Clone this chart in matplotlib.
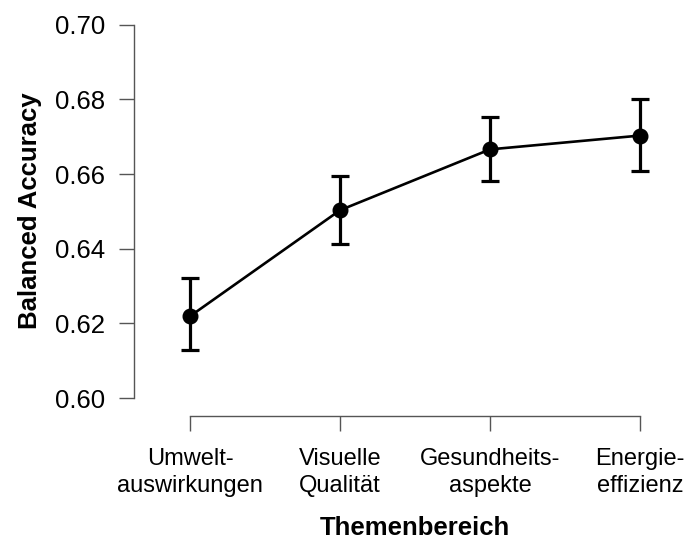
import matplotlib
matplotlib.use("Agg")
import matplotlib.pyplot as plt
import numpy as np

categories = ["Umwelt-\nauswirkungen", "Visuelle\nQualität", "Gesundheits-\naspekte", "Energie-\neffizienz"]
means = [0.6219, 0.6503, 0.6666, 0.6703]
upper = [0.6321, 0.6596, 0.6753, 0.6801]
lower = [0.6128, 0.6412, 0.6582, 0.6608]
yticks = [0.60, 0.62, 0.64, 0.66, 0.68, 0.70]
ytick_labels = ["0.60", "0.62", "0.64", "0.66", "0.68", "0.70"]

plt.rcParams['font.family'] = ['Liberation Sans', 'DejaVu Sans']

W, H = 689, 540
fig = plt.figure(figsize=(W/100, H/100), dpi=100)
left_px, right_px, top_px, bot_px = 134, 658, 24.7, 398
ax = fig.add_axes([left_px/W, 1 - bot_px/H, (right_px-left_px)/W, (bot_px-top_px)/H])

x = np.arange(1, len(categories)+1)
means_a = np.array(means)
yerr = np.vstack([means_a - np.array(lower), np.array(upper) - means_a])

ax.plot(x, means_a, color='black', lw=1.9, zorder=2)
ax.errorbar(x, means_a, yerr=yerr, fmt='o', color='black', ms=10.5, elinewidth=2.3,
            capsize=6.5, capthick=2.3, zorder=3)

ax.set_xlim(1 - 56/150, 1 + (right_px-190)/150)
ax.set_ylim(0.60, 0.70)

for s in ['top', 'right']:
    ax.spines[s].set_visible(False)
ax.spines['left'].set_bounds(0.60, 0.70)
ax.spines['bottom'].set_bounds(1, 4)
ax.spines['bottom'].set_position(('outward', 13))
for s in ['left', 'bottom']:
    ax.spines[s].set_color('#555555')
    ax.spines[s].set_linewidth(1.0)

ax.set_yticks(yticks)
ax.set_yticklabels(ytick_labels)
ax.set_xticks(x)
ax.set_xticklabels(categories, linespacing=1.3)
ax.tick_params(axis='y', length=11, width=1.0, color='#555555', labelsize=18.5, pad=10)
ax.tick_params(axis='x', length=11, width=1.0, color='#555555', labelsize=17, pad=12)

fig.text(30/W, 1 - 211/H, "Balanced Accuracy", rotation=90, ha='center', va='center',
         fontsize=18.5, fontweight='bold')
fig.text(415/W, 1 - 528/H, "Themenbereich", ha='center', va='center',
         fontsize=18.5, fontweight='bold')

fig.savefig("out.png", dpi=100)
